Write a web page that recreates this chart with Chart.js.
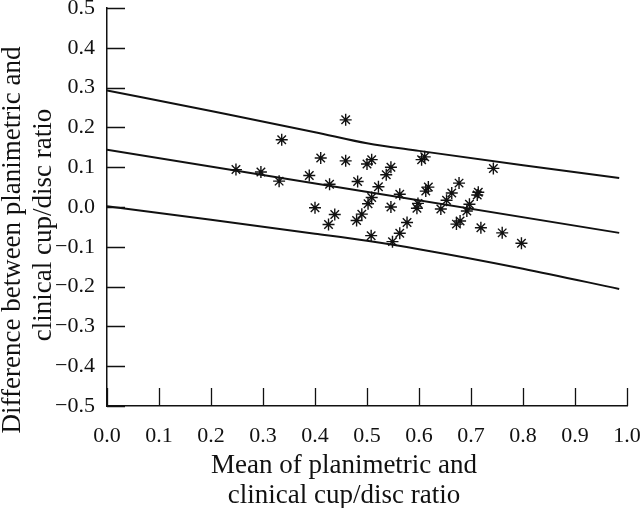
<!DOCTYPE html>
<html>
<head>
<meta charset="utf-8">
<script src="https://cdn.jsdelivr.net/npm/chart.js@4"></script>
<style>
  html, body { margin: 0; padding: 0; background: #fff; }
  #wrap { width: 640px; height: 508px; }
</style>
</head>
<body>
<div id="wrap"><canvas id="bland"></canvas></div>
<script>
// scatter: mean vs difference of planimetric and clinical cup/disc ratio
const meanVals = [0.248, 0.296, 0.331, 0.336, 0.389, 0.400, 0.411, 0.426, 0.428, 0.438,
  0.459, 0.459, 0.482, 0.480, 0.490, 0.500, 0.509, 0.502, 0.509, 0.508,
  0.522, 0.537, 0.546, 0.546, 0.549, 0.563, 0.563, 0.577, 0.596, 0.598,
  0.605, 0.611, 0.613, 0.618, 0.642, 0.653, 0.663, 0.677, 0.679, 0.672,
  0.692, 0.697, 0.714, 0.712, 0.719, 0.743, 0.760, 0.797];
const diffVals = [0.094, 0.088, 0.065, 0.169, 0.079, -0.002, 0.123, -0.044, 0.057, -0.019,
  0.219, 0.116, 0.064, -0.034, -0.018, 0.108, 0.119, 0.008, 0.024, -0.072,
  0.051, 0.081, 0.100, 0.000, -0.087, 0.032, -0.066, -0.039, -0.003, 0.009,
  0.119, 0.126, 0.040, 0.050, -0.005, 0.017, 0.035, 0.060, -0.035, -0.043,
  -0.010, 0.007, 0.037, 0.030, -0.052, 0.097, -0.065, -0.091];

// regression line and limits
const limitX = [0, 0.2, 0.4, 0.5, 0.6, 0.8, 0.985];
const upperY = [0.293, 0.241, 0.188, 0.160, 0.141, 0.105, 0.073];
const lowerY = [0.002, -0.032, -0.067, -0.085, -0.106, -0.155, -0.206];
const fitX = [0, 0.985];
const fitY = [0.144, -0.065];

const xTicks = [0, 0.1, 0.2, 0.3, 0.4, 0.5, 0.6, 0.7, 0.8, 0.9, 1.0];
const yTicks = [-0.5, -0.4, -0.3, -0.2, -0.1, 0, 0.1, 0.2, 0.3, 0.4, 0.5];

const xTitle = ['Mean of planimetric and', 'clinical cup/disc ratio'];
const yTitle = ['Difference between planimetric and', 'clinical cup/disc ratio'];

const ink = '#111';
const serif = '"Liberation Serif", "DejaVu Serif", serif';

function pts(xs, ys) {
  return xs.map((x, i) => ({ x: x, y: ys[i] }));
}
function fmt(v) {
  const r = Math.round(v * 10) / 10;
  const s = Math.abs(r).toFixed(1);
  return r < 0 ? '\u2212' + s : s;
}

// ticks point inward, axis titles drawn by hand
const inwardTicks = {
  id: 'inwardTicks',
  afterDraw(chart) {
    const ctx = chart.ctx;
    const a = chart.chartArea;
    const xs = chart.scales.x, ys = chart.scales.y;
    ctx.save();
    ctx.strokeStyle = ink;
    ctx.lineWidth = 1.3;
    ctx.beginPath();
    xTicks.forEach(v => {
      const px = Math.round(xs.getPixelForValue(v)) + 0.5;
      ctx.moveTo(px, a.bottom);
      ctx.lineTo(px, a.bottom - 18);
    });
    yTicks.forEach(v => {
      const py = Math.round(ys.getPixelForValue(v)) + 0.5;
      ctx.moveTo(a.left, py);
      ctx.lineTo(a.left + 18, py);
    });
    ctx.stroke();

    ctx.fillStyle = ink;
    ctx.font = '27px ' + serif;
    ctx.textAlign = 'center';
    ctx.textBaseline = 'alphabetic';
    ctx.fillText(xTitle[0], 344, 473);
    ctx.fillText(xTitle[1], 344, 503);

    ctx.save();
    ctx.translate(20, 240);
    ctx.rotate(-Math.PI / 2);
    ctx.fillText(yTitle[0], 0, 0);
    ctx.restore();
    ctx.save();
    ctx.translate(51, 225);
    ctx.rotate(-Math.PI / 2);
    ctx.fillText(yTitle[1], 0, 0);
    ctx.restore();
    ctx.restore();
  }
};

const lineStyle = {
  showLine: true,
  borderColor: ink,
  borderWidth: 2,
  pointRadius: 0,
  cubicInterpolationMode: 'monotone',
  fill: false
};

new Chart(document.getElementById('bland'), {
  type: 'scatter',
  data: {
    datasets: [
      Object.assign({ label: 'upper', data: pts(limitX, upperY) }, lineStyle),
      Object.assign({ label: 'fit', data: pts(fitX, fitY) }, lineStyle),
      Object.assign({ label: 'lower', data: pts(limitX, lowerY) }, lineStyle),
      {
        label: 'eyes',
        data: pts(meanVals, diffVals),
        pointStyle: 'star',
        pointRadius: 6,
        borderColor: ink,
        borderWidth: 1.4,
        backgroundColor: ink
      }
    ]
  },
  options: {
    responsive: true,
    maintainAspectRatio: false,
    animation: false,
    events: [],
    layout: { padding: { top: 8, right: 13, left: 0, bottom: 0 } },
    plugins: { legend: { display: false }, tooltip: { enabled: false } },
    scales: {
      x: {
        type: 'linear',
        min: 0,
        max: 1,
        afterBuildTicks: s => { s.ticks = xTicks.map(v => ({ value: v })); },
        afterFit: s => { s.height = 102; s.paddingLeft = 0; s.paddingRight = 0; },
        grid: { display: false, drawTicks: false },
        border: { display: true, color: ink, width: 1.5 },
        ticks: { color: ink, font: { family: serif, size: 22 }, padding: 17, maxRotation: 0, callback: v => fmt(v) }
      },
      y: {
        type: 'linear',
        min: -0.5,
        max: 0.5,
        afterBuildTicks: s => { s.ticks = yTicks.map(v => ({ value: v })); },
        afterFit: s => { s.width = 107; s.paddingTop = 0; s.paddingBottom = 0; },
        grid: { display: false, drawTicks: false },
        border: { display: true, color: ink, width: 1.5 },
        ticks: { color: ink, font: { family: serif, size: 22 }, padding: 12, callback: v => fmt(v) }
      }
    }
  },
  plugins: [inwardTicks]
});
</script>
</body>
</html>
